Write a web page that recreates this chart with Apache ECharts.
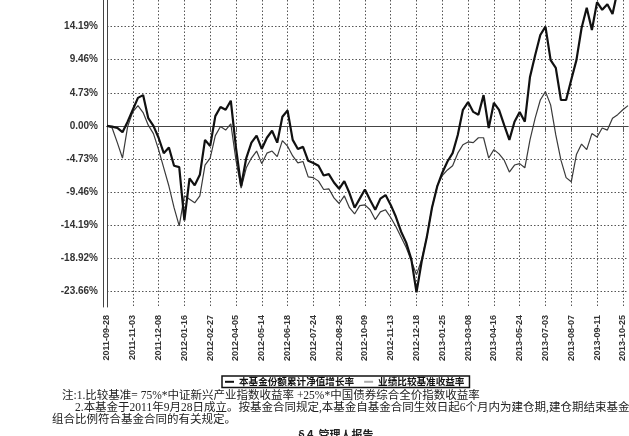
<!DOCTYPE html>
<html><head><meta charset="utf-8">
<script src="https://cdn.jsdelivr.net/npm/echarts@6/dist/echarts.min.js"></script>
<style>html,body{margin:0;padding:0;background:#fff}#c{width:629px;height:436px}</style>
</head><body><div id="c"></div>
<script>
const categories = [
'2011-09-28','2011-10-11','2011-10-18','2011-10-24','2011-10-28','2011-11-03','2011-11-10','2011-11-17','2011-11-24','2011-12-01',
'2011-12-08','2011-12-15','2011-12-22','2011-12-29','2012-01-09','2012-01-16','2012-01-30','2012-02-06','2012-02-13','2012-02-20',
'2012-02-27','2012-03-05','2012-03-12','2012-03-19','2012-03-26','2012-04-05','2012-04-12','2012-04-19','2012-04-26','2012-05-07',
'2012-05-14','2012-05-21','2012-05-28','2012-06-04','2012-06-11','2012-06-18','2012-06-26','2012-07-03','2012-07-10','2012-07-17',
'2012-07-24','2012-07-31','2012-08-07','2012-08-14','2012-08-21','2012-08-28','2012-09-04','2012-09-11','2012-09-18','2012-09-25',
'2012-10-09','2012-10-16','2012-10-23','2012-10-30','2012-11-06','2012-11-13','2012-11-20','2012-11-27','2012-12-04','2012-12-11',
'2012-12-18','2012-12-25','2013-01-04','2013-01-11','2013-01-18','2013-01-25','2013-02-01','2013-02-08','2013-02-22','2013-03-01',
'2013-03-08','2013-03-15','2013-03-22','2013-03-29','2013-04-09','2013-04-16','2013-04-23','2013-05-03','2013-05-10','2013-05-17',
'2013-05-24','2013-05-31','2013-06-07','2013-06-19','2013-06-26','2013-07-03','2013-07-10','2013-07-17','2013-07-24','2013-07-31',
'2013-08-07','2013-08-14','2013-08-21','2013-08-28','2013-09-04','2013-09-11','2013-09-18','2013-09-27','2013-10-11','2013-10-18',
'2013-10-25','2013-11-01'];

const fundReturn = [
0,-0.1,-0.3,-0.9,0.6,2.3,4.0,4.4,1.1,0,
-1.7,-3.9,-3.1,-5.7,-5.9,-13.5,-7.5,-8.5,-7.0,-2.0,
-2.9,1.4,2.7,2.3,3.6,-3.1,-8.6,-4.6,-2.4,-1.4,
-3.3,-1.7,-0.7,-2.4,1.3,2.2,-2.0,-3.3,-3.0,-5.0,
-5.3,-5.7,-7.1,-6.9,-8.1,-9.0,-7.9,-9.6,-11.7,-10.4,
-9.1,-10.6,-12.0,-10.4,-9.9,-11.3,-13.0,-15.1,-16.7,-19.1,
-23.8,-19.4,-15.9,-11.7,-8.7,-6.7,-5.1,-3.9,-1.3,2.3,
3.4,2.0,1.6,4.4,-0.3,3.3,2.3,0.1,-2.0,0.6,
2.0,0.6,7.0,10.1,13.0,14.2,9.4,8.3,3.7,3.7,
6.6,9.4,14.0,16.9,13.7,17.7,16.6,17.4,16.0,19.4,
20.9,19.7];

const benchReturn = [
0,-0.3,-2.4,-4.6,-0.1,2.0,2.9,1.9,0.1,-1.1,
-3.4,-6.0,-8.6,-11.7,-14.3,-10.0,-10.5,-11.0,-10.0,-5.6,
-4.6,-1.4,-0.1,-0.6,0.3,-4.9,-8.9,-6.0,-4.6,-3.6,
-5.4,-3.9,-3.6,-4.4,-2.1,-2.9,-4.3,-5.3,-5.1,-7.3,
-7.4,-7.9,-9.1,-9.0,-10.3,-11.1,-10.0,-11.7,-12.6,-11.4,
-11.3,-12.0,-13.4,-12.3,-12.0,-13.1,-14.4,-15.9,-17.4,-19.3,
-21.3,-19.1,-15.9,-11.7,-8.6,-7.1,-6.3,-5.7,-3.9,-2.7,
-2.3,-2.4,-1.7,-1.7,-4.6,-3.4,-4.0,-4.9,-6.6,-5.6,
-5.4,-6.0,-2.0,1.1,3.7,4.9,3.0,-1.3,-4.9,-7.4,
-8.0,-4.1,-2.6,-3.4,-1.1,-1.6,-0.3,-0.6,1.1,1.6,
2.3,2.9];

const yTickValues = [-23.66,-18.92,-14.19,-9.46,-4.73,0,4.73,9.46,14.19];
const yTickLabels = ['-23.66%','-18.92%','-14.19%','-9.46%','-4.73%','0.00%','4.73%','9.46%','14.19%'];

const seriesNames = ['本基金份额累计净值增长率','业绩比较基准收益率'];
const notes = [
  '注:1.比较基准= 75%*中证新兴产业指数收益率 +25%*中国债券综合全价指数收益率',
  '2.本基金于2011年9月28日成立。按基金合同规定,本基金自基金合同生效日起6个月内为建仓期,建仓期结束基金',
  '组合比例符合基金合同的有关规定。',
  '§4  管理人报告'
];

const chart = echarts.init(document.getElementById('c'));
const gridLine = {type:[1.5,2], color:'#555', width:1};
const noteFont = '11.5px "Liberation Serif","Noto Sans CJK SC",serif';
chart.setOption({
  backgroundColor:'#fff',
  animation:false,
  grid:{left:107,right:1,top:0,bottom:129},
  legend:{
    left:222, top:376, icon:'rect', itemWidth:9, itemHeight:2, itemGap:10,
    padding:[1,5,1,3], borderColor:'#111', borderWidth:1.5,
    textStyle:{fontSize:9.6, fontWeight:'bold', color:'#111', fontFamily:'Noto Sans CJK SC'},
    data:[{name:seriesNames[0], itemStyle:{color:'#111'}},{name:seriesNames[1], itemStyle:{color:'#aaa'}}]
  },
  xAxis:[{
    type:'category', data:categories, boundaryGap:false,
    axisLine:{lineStyle:{color:'#444',width:1}},
    axisTick:{show:true, interval:4, length:6, lineStyle:{color:'#555'}},
    axisLabel:{interval:4, rotate:90, margin:8, fontSize:9, fontWeight:'bold', color:'#333', fontFamily:'Liberation Sans'},
    splitLine:{show:true, interval:4, lineStyle:gridLine}
  },{
    type:'category', data:categories, boundaryGap:false, position:'bottom', offset:3,
    axisLine:{lineStyle:{color:'#444',width:1}}, axisTick:{show:false}, axisLabel:{show:false}, splitLine:{show:false}
  }],
  yAxis:[{
    type:'value', min:-25.9, max:18,
    axisLine:{show:true, lineStyle:{color:'#444',width:1}},
    axisTick:{show:false, customValues:yTickValues},
    axisLabel:{customValues:yTickValues, margin:9, fontSize:10, fontWeight:'bold', color:'#333', fontFamily:'Liberation Sans',
      formatter:function(v){ for(let i=0;i<yTickValues.length;i++){ if(Math.abs(yTickValues[i]-v)<1e-6) return yTickLabels[i]; } return ''; }},
    splitLine:{show:true, lineStyle:gridLine}
  },{
    type:'value', min:-25.9, max:18, position:'left', offset:3.5,
    axisLine:{show:true, lineStyle:{color:'#444',width:1}}, axisTick:{show:false}, axisLabel:{show:false}, splitLine:{show:false}
  }],
  series:[
    {name:seriesNames[1], type:'line', data:benchReturn, symbol:'none', lineStyle:{color:'#3a3a3a', width:1.2}, itemStyle:{color:'#aaa'}, z:2},
    {name:seriesNames[0], type:'line', data:fundReturn, symbol:'none', lineStyle:{color:'#111', width:2.2}, itemStyle:{color:'#111'}, z:3}
  ],
  graphic:[
    {type:'text', left:62, top:390, style:{text:notes[0], font:noteFont, fill:'#222'}},
    {type:'text', left:75, top:402, style:{text:notes[1], font:noteFont, fill:'#222'}},
    {type:'text', left:52, top:414, style:{text:notes[2], font:noteFont, fill:'#222'}},
    {type:'text', left:296, top:429, style:{text:notes[3], font:'bold 11px "Noto Sans CJK SC",sans-serif', fill:'#222'}}
  ]
});
</script></body></html>
